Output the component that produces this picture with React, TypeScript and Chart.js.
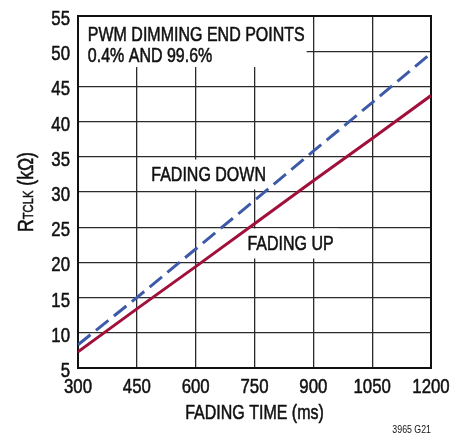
import React, { useEffect, useRef } from "react";
import { Chart, registerables } from "chart.js";

Chart.register(...registerables);

// ---- data ----
const fadingTimeMs = [300, 450, 600, 750, 900, 1050, 1200];
const rFadingDown = [8.3, 15.0, 21.9, 28.8, 35.8, 42.7, 49.7];
const rFadingUp = [7.3, 13.4, 19.4, 25.5, 31.6, 37.6, 43.7];
const xTickValues = [300, 450, 600, 750, 900, 1050, 1200];
const yTickValues = [5, 10, 15, 20, 25, 30, 35, 40, 45, 50, 55];

const noteLines = ["PWM DIMMING END POINTS", "0.4% AND 99.6%"];
const noteX = 325; // data x of text left edge
const noteBaselines = [51.5, 48.5]; // data y of baselines
const noteBox = { xMin: 300, xMax: 883, yMin: 47.75, yMax: 55 };
const seriesLabels = [
  { text: "FADING DOWN", x: 633, y: 31.56 },
  { text: "FADING UP", x: 842, y: 21.76 },
];

const FONT = "'Liberation Sans', Arial, sans-serif";
const SX = 0.8; // horizontal condensing
const INK = "#111";

function fontStr(size: number, bold = false) {
  return `${bold ? "bold " : ""}${size}px ${FONT}`;
}
function textW(ctx: CanvasRenderingContext2D, text: string, size: number, bold = false) {
  ctx.font = fontStr(size, bold);
  return ctx.measureText(text).width * SX;
}
function drawText(
  ctx: CanvasRenderingContext2D,
  text: string,
  x: number,
  y: number,
  size: number,
  align: CanvasTextAlign = "left",
  bold = false
) {
  ctx.save();
  ctx.font = fontStr(size, bold);
  ctx.translate(x, y);
  ctx.scale(SX, 1);
  ctx.textAlign = align;
  ctx.textBaseline = "alphabetic";
  ctx.fillStyle = INK;
  ctx.fillText(text, 0, 0);
  if (!bold && size > 12) {
    ctx.strokeStyle = INK;
    ctx.lineWidth = 0.55;
    ctx.lineJoin = "round";
    ctx.strokeText(text, 0, 0);
  }
  ctx.restore();
}

const overlay = {
  id: "overlay",
  beforeDatasetsDraw(chart: any) {
    const { ctx, chartArea: a } = chart;
    const x = chart.scales.x;
    const y = chart.scales.y;
    ctx.save();
    ctx.fillStyle = "#fff";
    const bx0 = x.getPixelForValue(noteBox.xMin);
    const bx1 = x.getPixelForValue(noteBox.xMax);
    const by0 = y.getPixelForValue(noteBox.yMax);
    const by1 = y.getPixelForValue(noteBox.yMin);
    ctx.fillRect(bx0, by0, bx1 - bx0, by1 - by0);
    noteLines.forEach((t, i) =>
      drawText(ctx, t, x.getPixelForValue(noteX), y.getPixelForValue(noteBaselines[i]), 20)
    );
    seriesLabels.forEach((l) => {
      const w = textW(ctx, l.text, 20);
      const cx = x.getPixelForValue(l.x);
      const by = y.getPixelForValue(l.y);
      ctx.fillStyle = "#fff";
      ctx.fillRect(cx - w / 2 - 5, by - 21.5, w + 10, 30);
      drawText(ctx, l.text, cx, by, 20, "center");
    });
    ctx.strokeStyle = INK;
    ctx.lineWidth = 2;
    ctx.strokeRect(a.left, a.top, a.right - a.left, a.bottom - a.top);
    ctx.restore();
  },
  afterDraw(chart: any) {
    const { ctx, chartArea: a } = chart;
    const x = chart.scales.x;
    const y = chart.scales.y;
    // tick labels
    x.ticks.forEach((t: any) => {
      drawText(ctx, String(t.value), x.getPixelForValue(t.value), a.bottom + 24.5, 21, "center");
    });
    y.ticks.forEach((t: any) => {
      drawText(ctx, String(t.value), a.left - 8, y.getPixelForValue(t.value) + 9, 21, "right");
    });
    // x title
    drawText(ctx, "FADING TIME (ms)", (a.left + a.right) / 2, 418.5, 20, "center");
    // y title (rotated, with small TCLK)
    const cy = (a.top + a.bottom) / 2;
    const wR = textW(ctx, "R", 22);
    const wSub = textW(ctx, "TCLK", 14);
    const wRest = textW(ctx, " (kΩ)", 22);
    ctx.save();
    ctx.translate(25, cy);
    ctx.rotate(-Math.PI / 2);
    let px = -(wR + wSub + wRest) / 2;
    drawText(ctx, "R", px, 8, 22);
    px += wR;
    drawText(ctx, "TCLK", px, 8, 14);
    px += wSub;
    drawText(ctx, " (kΩ)", px, 8, 22);
    ctx.restore();
    // top clipped title
    let tx = 84;
    drawText(ctx, "R", tx, -5, 20, "left", true);
    tx += textW(ctx, "R", 20, true);
    drawText(ctx, "TCLK", tx, -0.5, 14, "left", true);
    tx += textW(ctx, "TCLK", 14, true);
    drawText(ctx, " vs Fading Time", tx, -5, 20, "left", true);
    // footnote
    drawText(ctx, "3965 G21", a.right, 433, 11, "right");
  },
};

export default function App() {
  const ref = useRef<HTMLCanvasElement>(null);
  useEffect(() => {
    if (!ref.current) return;
    const chart = new Chart(ref.current, {
      type: "line",
      data: {
        datasets: [
          {
            label: "FADING UP",
            data: fadingTimeMs.map((t, i) => ({ x: t, y: rFadingUp[i] })),
            borderColor: "#a0103a",
            borderWidth: 3,
            pointRadius: 0,
            tension: 0,
          },
          {
            label: "FADING DOWN",
            data: fadingTimeMs.map((t, i) => ({ x: t, y: rFadingDown[i] })),
            borderColor: "#3d5aa8",
            borderWidth: 3,
            borderDash: [16, 7],
            pointRadius: 0,
            tension: 0,
          },
        ],
      },
      options: {
        animation: false,
        responsive: false,
        layout: { padding: { top: 16, right: 35, left: 0, bottom: 0 } },
        plugins: { legend: { display: false }, tooltip: { enabled: false } },
        scales: {
          x: {
            type: "linear",
            min: 300,
            max: 1200,
            afterBuildTicks: (s: any) => {
              s.ticks = xTickValues.map((v) => ({ value: v }));
            },
            afterFit: (s: any) => {
              s.height = 66;
            },
            ticks: { display: false },
            grid: { color: "#2a2a2a", lineWidth: 1.3, drawTicks: false },
            border: { display: false },
          },
          y: {
            type: "linear",
            min: 5,
            max: 55,
            afterBuildTicks: (s: any) => {
              s.ticks = yTickValues.map((v) => ({ value: v }));
            },
            afterFit: (s: any) => {
              s.width = 78;
            },
            ticks: { display: false },
            grid: { color: "#2a2a2a", lineWidth: 1.3, drawTicks: false },
            border: { display: false },
          },
        },
      },
      plugins: [overlay],
    } as any);
    return () => chart.destroy();
  }, []);
  return (
    <div style={{ position: "fixed", left: 0, top: 0, width: 466, height: 434, background: "#fff" }}>
      <canvas ref={ref} width={466} height={434} style={{ display: "block" }} />
    </div>
  );
}
